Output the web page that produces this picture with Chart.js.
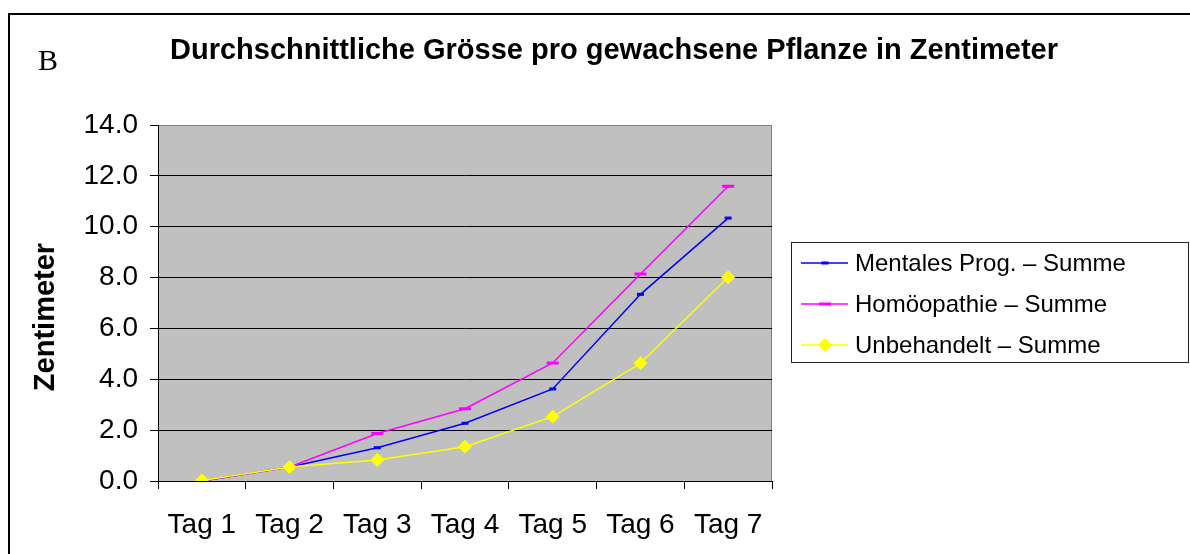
<!DOCTYPE html>
<html>
<head>
<meta charset="utf-8">
<script src="https://cdn.jsdelivr.net/npm/chart.js@4"></script>
<style>
  html, body { margin: 0; padding: 0; background: #fff; }
  #wrap { width: 1190px; height: 554px; }
</style>
</head>
<body>
<div id="wrap"><canvas id="growthChart"></canvas></div>
<script>
var categories = ['Tag 1', 'Tag 2', 'Tag 3', 'Tag 4', 'Tag 5', 'Tag 6', 'Tag 7'];
var mentalesProg = [0, 0.55, 1.31, 2.27, 3.62, 7.34, 10.34];
var homoeopathie = [0, 0.55, 1.87, 2.84, 4.64, 8.14, 11.59];
var unbehandelt = [0.02, 0.55, 0.83, 1.35, 2.53, 4.63, 8.01];
var yTicks = [0, 2, 4, 6, 8, 10, 12, 14];

var FONT = "'Liberation Sans', Arial, sans-serif";

// background, outer frame, title, axis title and legend
var decor = {
    id: 'decor',
    beforeDraw: function (chart) {
        var c = chart.ctx, a = chart.chartArea;
        c.save();
        c.fillStyle = '#fff';
        c.fillRect(0, 0, chart.width, chart.height);
        c.fillStyle = '#c0c0c0';
        c.fillRect(a.left, a.top, a.right - a.left, a.bottom - a.top);
        c.strokeStyle = '#808080';
        c.lineWidth = 1;
        c.strokeRect(a.left + 0.5, a.top + 0.5, a.right - a.left - 1, a.bottom - a.top);
        // outer frame (runs off the right and bottom edge)
        c.strokeStyle = '#000';
        c.lineWidth = 2;
        c.beginPath();
        c.moveTo(9, 600);
        c.lineTo(9, 14);
        c.lineTo(1200, 14);
        c.stroke();
        c.restore();
    },
    afterDraw: function (chart) {
        var c = chart.ctx;
        c.save();
        c.fillStyle = '#000';
        c.textBaseline = 'middle';

        c.font = '30px "Liberation Serif", "Times New Roman", serif';
        c.textAlign = 'left';
        c.fillText('B', 38, 62);

        c.font = 'bold 29px ' + FONT;
        c.textAlign = 'center';
        c.fillText('Durchschnittliche Grösse pro gewachsene Pflanze in Zentimeter', 614, 51);

        c.save();
        c.translate(46, 317);
        c.rotate(-Math.PI / 2);
        c.font = 'bold 29px ' + FONT;
        c.fillText('Zentimeter', 0, 0);
        c.restore();

        // legend
        c.strokeStyle = '#222';
        c.lineWidth = 1;
        c.strokeRect(791.5, 242.5, 397, 120);
        var rows = [263, 304, 345];
        c.font = '24px ' + FONT;
        c.textAlign = 'left';
        chart.data.datasets.forEach(function (ds, i) {
            var y = rows[i];
            c.strokeStyle = ds.borderColor;
            c.fillStyle = ds.borderColor;
            c.lineWidth = 1.5;
            c.beginPath();
            c.moveTo(801, y);
            c.lineTo(848, y);
            c.stroke();
            c.lineWidth = ds.pointBorderWidth;
            Chart.helpers.drawPoint(c, {
                pointStyle: ds.pointStyle,
                radius: ds.pointRadius,
                borderWidth: ds.pointBorderWidth
            }, 825, y);
            c.fillStyle = '#000';
            c.fillText(ds.label, 855, y + 1);
        });
        c.restore();
    }
};

function seriesStyle(color, style, radius, bw) {
    return {
        borderColor: color,
        backgroundColor: color,
        pointBackgroundColor: color,
        pointBorderColor: color,
        pointStyle: style,
        pointRadius: radius,
        pointBorderWidth: bw,
        borderWidth: 1.5,
        tension: 0,
        fill: false
    };
}

var ds1 = Object.assign({ label: 'Mentales Prog. – Summe', data: mentalesProg, order: 3 },
    seriesStyle('#0000ff', 'line', 3.5, 3));
var ds2 = Object.assign({ label: 'Homöopathie – Summe', data: homoeopathie, order: 2 },
    seriesStyle('#ff00ff', 'line', 6, 3));
var ds3 = Object.assign({ label: 'Unbehandelt – Summe', data: unbehandelt, order: 1 },
    seriesStyle('#ffff00', 'rectRot', 6.5, 1));

new Chart(document.getElementById('growthChart'), {
    type: 'line',
    data: { labels: categories, datasets: [ds1, ds2, ds3] },
    options: {
        responsive: true,
        maintainAspectRatio: false,
        animation: false,
        events: [],
        layout: { padding: { top: 125, right: 418, left: 0, bottom: 0 } },
        plugins: { legend: { display: false }, title: { display: false }, tooltip: { enabled: false } },
        scales: {
            x: {
                offset: true,
                grid: { offset: true, drawOnChartArea: false, color: '#000', tickLength: 8, tickWidth: 1 },
                border: { color: '#000', width: 1 },
                ticks: { color: '#000', font: { family: FONT, size: 28 }, padding: 19, maxRotation: 0, autoSkip: false },
                afterFit: function (s) { s.height = 73; }
            },
            y: {
                min: yTicks[0],
                max: yTicks[yTicks.length - 1],
                afterBuildTicks: function (s) { s.ticks = yTicks.map(function (v) { return { value: v }; }); },
                grid: {
                    color: function (ctx) { return ctx.tick && ctx.tick.value === 14 ? '#808080' : '#000'; },
                    tickColor: '#000',
                    tickLength: 8,
                    lineWidth: 1
                },
                border: { color: '#000', width: 1 },
                ticks: {
                    color: '#000',
                    font: { family: FONT, size: 28 },
                    padding: 12,
                    callback: function (v) { return Number(v).toFixed(1); }
                },
                afterFit: function (s) { s.width = 158; }
            }
        }
    },
    plugins: [decor]
});
</script>
</body>
</html>
